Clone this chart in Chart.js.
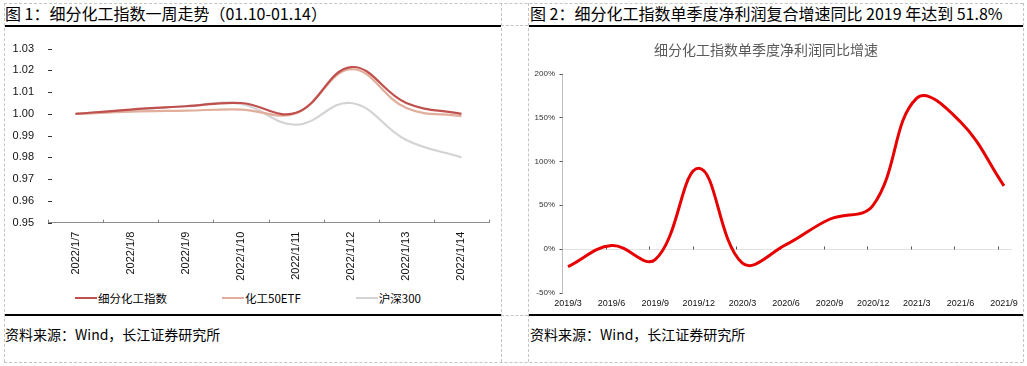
<!DOCTYPE html>
<html><head><meta charset="utf-8">
<script src="https://cdn.jsdelivr.net/npm/chart.js@4.4.1/dist/chart.umd.min.js"></script>
<style>
html,body{margin:0;padding:0;background:#fff;}
body{width:1027px;height:366px;position:relative;overflow:hidden;font-family:"Noto Sans CJK SC","Liberation Sans",sans-serif;}
.dv{position:absolute;width:0;border-left:1px dashed #c4c4c4;}
.dh{position:absolute;height:0;border-top:1px dashed #c4c4c4;}
.bl{position:absolute;height:2px;background:#000;}
.t{position:absolute;white-space:nowrap;color:#000;line-height:1;}
canvas{position:absolute;}
#legend1{position:absolute;left:75px;top:291px;display:flex;gap:55px;align-items:center;font-size:11.5px;line-height:14px;color:#000;font-family:"Noto Sans CJK SC",sans-serif;}
#legend1 .li{display:flex;align-items:center;}
#legend1 .sw{display:inline-block;width:22px;height:2px;margin-right:1px;}
</style></head><body>
<!-- dashed frame -->
<div class="dh" style="left:4px;top:3px;width:1019px"></div>
<div class="dh" style="left:4px;top:362px;width:1019px"></div>
<div class="dv" style="left:4px;top:3px;height:359px"></div>
<div class="dv" style="left:501px;top:3px;height:359px"></div>
<div class="dv" style="left:528px;top:3px;height:359px"></div>
<div class="dv" style="left:1023px;top:3px;height:359px"></div>
<div class="dh" style="left:501px;top:25px;width:27px"></div>
<div class="dh" style="left:501px;top:315px;width:27px"></div>
<!-- black rules -->
<div class="bl" style="left:5px;top:25px;width:496px"></div>
<div class="bl" style="left:529px;top:25px;width:494px"></div>
<div class="bl" style="left:5px;top:314px;width:496px"></div>
<div class="bl" style="left:529px;top:314px;width:494px"></div>
<!-- titles -->
<div class="t" style="left:5px;top:4.5px;font-size:16px;">图 1：细分化工指数一周走势（01.10-01.14）</div>
<div class="t" style="left:530px;top:4.5px;font-size:16px;">图 2：细分化工指数单季度净利润复合增速同比 2019 年达到 51.8%</div>
<div class="t" style="left:5px;top:327px;font-size:14px;">资料来源：Wind，长江证券研究所</div>
<div class="t" style="left:530px;top:327px;font-size:14px;">资料来源：Wind，长江证券研究所</div>

<canvas id="c1" width="495" height="255" style="left:5px;top:28px;width:495px;height:255px"></canvas>
<div id="legend1"></div>
<canvas id="c2" width="495" height="284" style="left:528px;top:28px;width:495px;height:284px"></canvas>

<script>
// ---------- data: chart 1 ----------
const dates = ['2022/1/7','2022/1/8','2022/1/9','2022/1/10','2022/1/11','2022/1/12','2022/1/13','2022/1/14'];
const chemIndex = [1.000, 1.002, 1.0035, 1.005, 1.0005, 1.0215, 1.005, 1.000];
const chemETF   = [1.000, 1.001, 1.0015, 1.002, 1.0003, 1.0205, 1.0027, 0.999];
const hs300     = [1.000, 1.0018, 1.0035, 1.0046, 0.995, 1.005, 0.988, 0.980];
const seriesNames1 = ['细分化工指数','化工50ETF','沪深300'];
const yTicks1 = {min:0.95, max:1.03, step:0.01};

// ---------- data: chart 2 ----------
const quarters = ['2019/3','2019/6','2019/9','2019/12','2020/3','2020/6','2020/9','2020/12','2021/3','2021/6','2021/9'];
const profitGrowth = [-20, 4, -12, 92, -16, 5, 34, 50, 172, 145, 72];
const yTicks2 = {min:-50, max:200, step:50};
const chartTitle2 = '细分化工指数单季度净利润同比增速';

const latin = '"Liberation Sans", Arial, sans-serif';

const innerTicks1 = {
  id:'innerTicks1',
  beforeDatasetsDraw(chart){
    const {ctx, chartArea:a, scales:{x, y}} = chart;
    ctx.save();
    ctx.strokeStyle = '#7f7f7f'; ctx.lineWidth = 1;
    const n = chart.data.labels.length;
    const step = x.getPixelForValue(1) - x.getPixelForValue(0);
    for (let i=0;i<=n;i++){
      const px = Math.round(x.getPixelForValue(0) - step/2 + i*step) + 0.5;
      ctx.beginPath(); ctx.moveTo(px, a.bottom); ctx.lineTo(px, a.bottom-3); ctx.stroke();
    }
    ctx.strokeStyle = '#333';
    y.ticks.forEach(t=>{
      const py = Math.round(y.getPixelForValue(t.value)) + 0.5;
      ctx.beginPath(); ctx.moveTo(a.left, py); ctx.lineTo(a.left+4, py); ctx.stroke();
    });
    ctx.restore();
  }
};

const c1 = new Chart(document.getElementById('c1'), {
  type:'line',
  data:{
    labels:dates,
    datasets:[
      {label:seriesNames1[0], data:chemIndex, borderColor:'#C0504D'},
      {label:seriesNames1[1], data:chemETF, borderColor:'#E0AE9A'},
      {label:seriesNames1[2], data:hs300, borderColor:'#D3D3D3'}
    ].map(d=>Object.assign(d,{borderWidth:2.2, tension:0.4, pointRadius:0, fill:false}))
  },
  options:{
    responsive:false, animation:false, devicePixelRatio:1,
    layout:{padding:{left:0, right:11, top:12.7, bottom:0}},
    plugins:{legend:{display:false}, tooltip:{enabled:false}},
    scales:{
      x:{
        offset:true,
        grid:{display:false, drawTicks:false, tickLength:0},
        border:{display:true, color:'#8c8c8c', width:1},
        ticks:{minRotation:90, maxRotation:90, autoSkip:false, padding:9, color:'#111', font:{family:latin, size:11}},
        afterFit(s){ s.height = 60.3; }
      },
      y:{
        min:yTicks1.min, max:yTicks1.max,
        grid:{display:false, drawTicks:false, tickLength:0},
        border:{display:false},
        ticks:{stepSize:yTicks1.step, padding:14, color:'#111', font:{family:latin, size:11}, callback:v=>Number(v).toFixed(2)},
        afterFit(s){ s.width = 43; }
      }
    }
  },
  plugins:[innerTicks1]
});

// HTML legend built from the chart's datasets
const leg = document.getElementById('legend1');
c1.data.datasets.forEach(ds=>{
  const item = document.createElement('div'); item.className='li';
  const sw = document.createElement('span'); sw.className='sw'; sw.style.background = ds.borderColor;
  const tx = document.createElement('span'); tx.textContent = ds.label;
  item.append(sw, tx); leg.append(item);
});

const axis2 = {
  id:'axis2',
  beforeDatasetsDraw(chart){
    const {ctx, chartArea:a, scales:{x, y}} = chart;
    const ax = Math.round(a.left - 6) + 0.5;
    const y0 = Math.round(y.getPixelForValue(0)) + 0.5;
    ctx.save();
    ctx.lineWidth = 1;
    ctx.strokeStyle = '#e3e3e3';
    ctx.beginPath(); ctx.moveTo(ax, y0); ctx.lineTo(a.right + 8, y0); ctx.stroke();
    ctx.strokeStyle = '#bfbfbf';
    ctx.beginPath(); ctx.moveTo(ax, y.getPixelForValue(yTicks2.max)); ctx.lineTo(ax, y.getPixelForValue(yTicks2.min)); ctx.stroke();
    ctx.strokeStyle = '#555';
    y.ticks.forEach(t=>{
      const py = Math.round(y.getPixelForValue(t.value)) + 0.5;
      ctx.beginPath(); ctx.moveTo(ax-3, py); ctx.lineTo(ax, py); ctx.stroke();
    });
    for (let i=1;i<chart.data.labels.length;i++){
      const px = Math.round(x.getPixelForValue(i) - 6) + 0.5;
      ctx.beginPath(); ctx.moveTo(px, y0); ctx.lineTo(px, y0-3); ctx.stroke();
    }
    ctx.restore();
  }
};

new Chart(document.getElementById('c2'), {
  type:'line',
  data:{
    labels:quarters,
    datasets:[{label:chartTitle2, data:profitGrowth, borderColor:'#E60000', borderWidth:3, tension:0.4, pointRadius:0, fill:false}]
  },
  options:{
    responsive:false, animation:false, devicePixelRatio:1,
    layout:{padding:{left:0, right:19, top:0, bottom:0}},
    plugins:{
      legend:{display:false}, tooltip:{enabled:false},
      title:{display:true, text:chartTitle2, color:'#595959', font:{family:'"Noto Sans CJK SC", sans-serif', size:14, weight:'normal'}, padding:{top:13.6, bottom:15.1}}
    },
    scales:{
      x:{
        offset:false,
        grid:{display:false, drawTicks:false, tickLength:0},
        border:{display:false},
        ticks:{autoSkip:false, maxRotation:0, padding:5, color:'#111', font:{family:latin, size:9}},
        afterFit(s){ s.height = 19; }
      },
      y:{
        min:yTicks2.min, max:yTicks2.max,
        grid:{display:false, drawTicks:false, tickLength:0},
        border:{display:false},
        ticks:{stepSize:yTicks2.step, padding:13, color:'#333', font:{family:latin, size:8}, callback:v=>v+'%'},
        afterFit(s){ s.width = 40; }
      }
    }
  },
  plugins:[axis2]
});
</script>
</body></html>
